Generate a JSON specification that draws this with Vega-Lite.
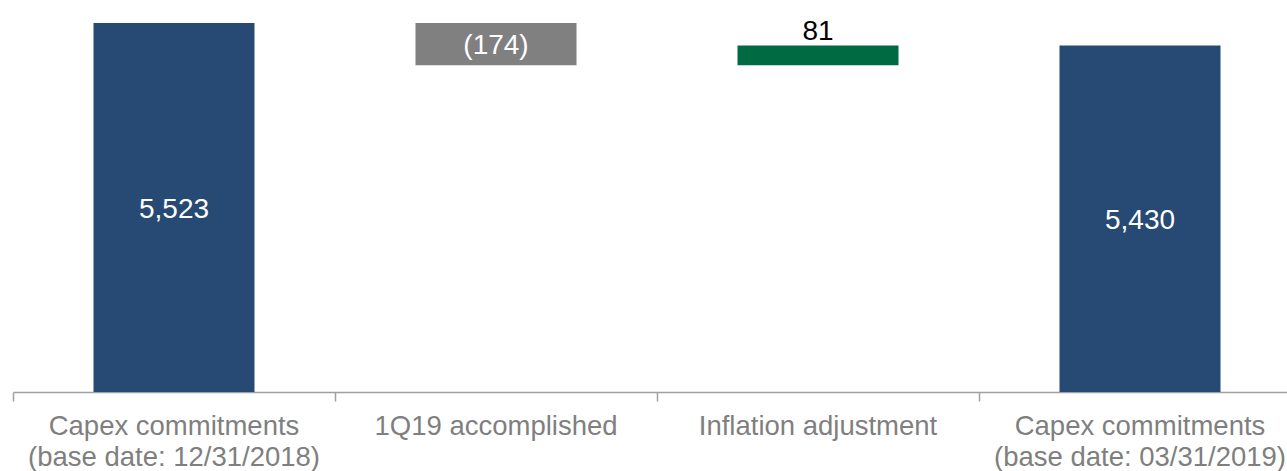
{
  "$schema": "https://vega.github.io/schema/vega-lite/v6.json",
  "width": 1274,
  "height": 392,
  "autosize": {"type": "none"},
  "padding": {"left": 13, "top": 0, "right": 0, "bottom": 79},
  "background": "white",
  "config": {
    "view": {"stroke": null},
    "font": "Liberation Sans"
  },
  "data": {
    "values": [
      {"cat": "Capex commitments\n(base date: 12/31/2018)", "start": 0, "end": 5523, "label": "5,523", "kind": "total"},
      {"cat": "1Q19 accomplished", "start": 5523, "end": 5349, "label": "(174)", "kind": "decrease"},
      {"cat": "Inflation adjustment", "start": 5349, "end": 5430, "label": "81", "kind": "increase"},
      {"cat": "Capex commitments\n(base date: 03/31/2019)", "start": 0, "end": 5430, "label": "5,430", "kind": "total"}
    ]
  },
  "transform": [
    {"calculate": "(max(datum.start, 4000) + datum.end) / 2", "as": "mid"}
  ],
  "encoding": {
    "x": {
      "field": "cat",
      "type": "nominal",
      "sort": null,
      "scale": {"range": [0, 1288], "paddingInner": 0, "paddingOuter": 0},
      "axis": {
        "title": null,
        "labelAngle": 0,
        "labelExpr": "split(datum.label, '\\n')",
        "labelFont": "Liberation Sans",
        "labelFontSize": 27.5,
        "labelColor": "#7f7f7f",
        "labelLineHeight": 31,
        "labelPadding": 11,
        "labelBaseline": "top",
        "labelLimit": 400,
        "bandPosition": 0,
        "tickSize": 9,
        "tickColor": "#a0a0a0",
        "domainColor": "#a0a0a0",
        "domainWidth": 1.5,
        "tickWidth": 1.5,
        "grid": false
      }
    }
  },
  "layer": [
    {
      "mark": {"type": "bar", "clip": true, "width": {"band": 0.5}},
      "encoding": {
        "y": {
          "field": "start",
          "type": "quantitative",
          "scale": {"domain": [4000, 5618], "nice": false, "zero": false},
          "axis": null
        },
        "y2": {"field": "end"},
        "color": {
          "field": "kind",
          "type": "nominal",
          "scale": {"domain": ["total", "decrease", "increase"], "range": ["#264a73", "#808080", "#006b43"]},
          "legend": null
        }
      }
    },
    {
      "transform": [{"filter": "datum.kind != 'increase'"}],
      "mark": {"type": "text", "color": "white", "fontSize": 28, "baseline": "middle", "dy": 2, "font": "Liberation Sans"},
      "encoding": {
        "y": {"field": "mid", "type": "quantitative"},
        "text": {"field": "label"}
      }
    },
    {
      "transform": [{"filter": "datum.kind == 'increase'"}],
      "mark": {"type": "text", "color": "black", "fontSize": 28, "baseline": "alphabetic", "dy": -6, "font": "Liberation Sans"},
      "encoding": {
        "y": {"field": "end", "type": "quantitative"},
        "text": {"field": "label"}
      }
    }
  ]
}
